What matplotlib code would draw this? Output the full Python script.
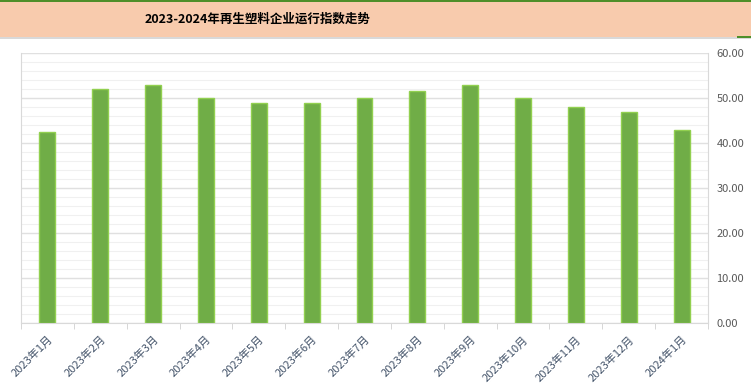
import numpy as np
import matplotlib.pyplot as plt
from matplotlib.patches import Rectangle

plt.rcParams['font.family'] = ['Noto Sans CJK SC', 'DejaVu Sans']

months = ['2023年1月', '2023年2月', '2023年3月', '2023年4月', '2023年5月', '2023年6月',
          '2023年7月', '2023年8月', '2023年9月', '2023年10月', '2023年11月', '2023年12月',
          '2024年1月']
index_vals = [42.4, 52.0, 52.9, 50.0, 49.0, 49.0, 50.0, 51.6, 52.9, 50.0, 48.0, 46.9, 43.0]

W, H = 751, 392
fig = plt.figure(figsize=(W / 100, H / 100), dpi=100)

# header band
fig.patches.append(Rectangle((0, 1 - 37 / H), 1, 35 / H, transform=fig.transFigure,
                             facecolor='#F8CBAD', edgecolor='none', zorder=0))
fig.patches.append(Rectangle((0, 1 - 2 / H), 1, 2 / H, transform=fig.transFigure,
                             facecolor='#4E8F2A', edgecolor='none', zorder=1))
fig.patches.append(Rectangle((0, 1 - 39 / H), 1, 1.5 / H, transform=fig.transFigure,
                             facecolor='#D9D9D9', edgecolor='none', zorder=1))
fig.patches.append(Rectangle((1 - 14 / W, 1 - 38 / H), 14 / W, 2 / H, transform=fig.transFigure,
                             facecolor='#4E8F2A', edgecolor='none', zorder=2))
fig.text(258 / W, 1 - 19.5 / H, '2023-2024年再生塑料企业运行指数走势', ha='center', va='center',
         fontsize=9, fontweight='bold', color='black')

ax = fig.add_axes([21 / W, 1 - 323 / H, 687 / W, 270 / H])
x = np.arange(len(months))
ax.bar(x, index_vals, width=0.3, color='#70AD47', edgecolor='#92D050', linewidth=1, zorder=3)

ax.set_xlim(-0.5, len(months) - 0.5)
ax.set_ylim(0, 60)
ax.yaxis.tick_right()
ax.set_yticks(np.arange(0, 61, 10))
ax.set_yticklabels([f'{v:.2f}' for v in np.arange(0, 61, 10)], fontsize=8, color='#595959')
ax.set_yticks(np.arange(0, 61, 2), minor=True)
ax.tick_params(axis='y', which='both', length=0, pad=6)
ax.grid(axis='y', which='major', color='#E0E0E0', linewidth=1, zorder=0)
ax.grid(axis='y', which='minor', color='#F0F0F0', linewidth=0.8, zorder=0)

ax.set_xticks(x)
ax.set_xticklabels(months, rotation=45, ha='right', rotation_mode='anchor',
                   fontsize=8, color='#44546A')
ax.set_xticks(np.arange(-0.5, len(months), 1), minor=True)
ax.tick_params(axis='x', which='major', length=0, pad=8)
ax.tick_params(axis='x', which='minor', length=4, color='#D0D0D0')

for side in ['left', 'right', 'bottom']:
    ax.spines[side].set_color('#D9D9D9')
ax.spines['top'].set_visible(False)

fig.savefig('out.png', dpi=100)
